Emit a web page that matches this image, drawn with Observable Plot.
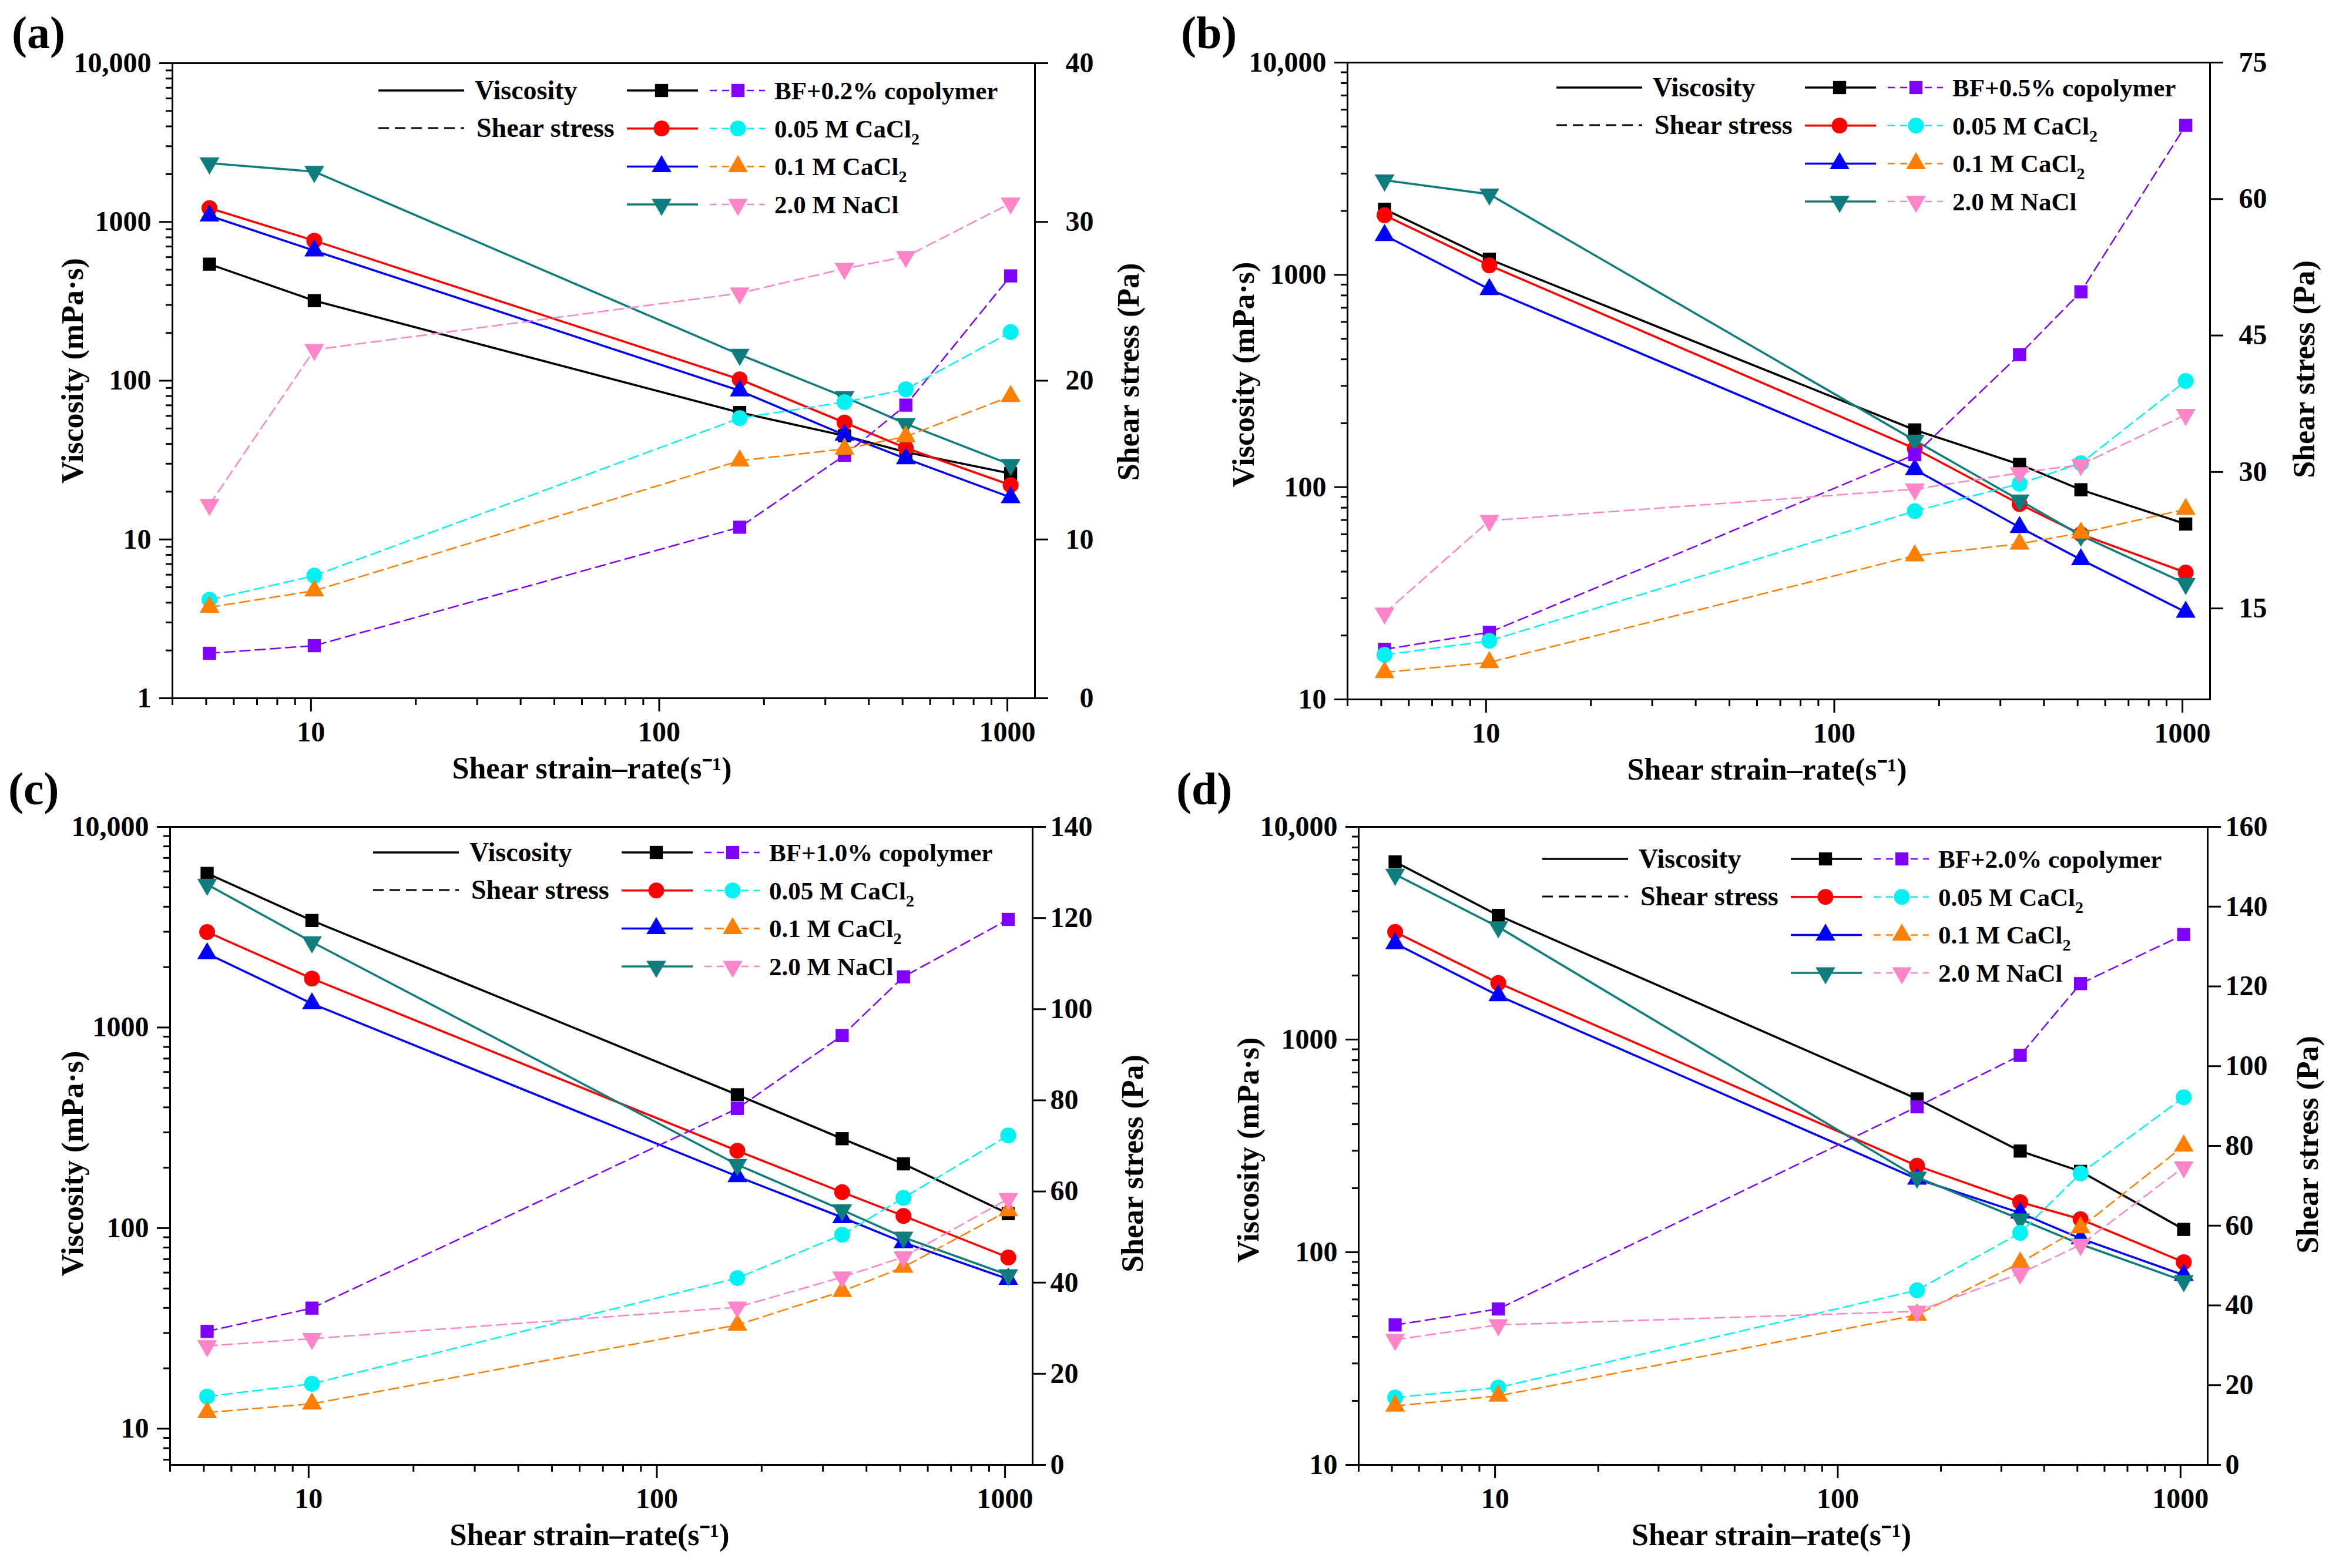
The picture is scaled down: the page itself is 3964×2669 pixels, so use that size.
<!DOCTYPE html>
<html><head><meta charset="utf-8">
<script src="https://cdn.jsdelivr.net/npm/d3@7"></script>
<script src="https://cdn.jsdelivr.net/npm/@observablehq/plot@0.6"></script>
<style>
html,body{margin:0;padding:0;background:#fff;}
#root{position:relative;width:3964px;height:2669px;background:#fff;overflow:hidden;}
</style></head><body><div id="root"></div>
<script>
// ---------------- DATA ----------------
const shearRate = [5.11, 10.22, 170.3, 340.6, 510.9, 1021.8];

const seriesLabelsA = ["BF+0.2% copolymer", "0.05 M CaCl₂", "0.1 M CaCl₂", "2.0 M NaCl"];
const seriesLabelsB = ["BF+0.5% copolymer", "0.05 M CaCl₂", "0.1 M CaCl₂", "2.0 M NaCl"];
const seriesLabelsC = ["BF+1.0% copolymer", "0.05 M CaCl₂", "0.1 M CaCl₂", "2.0 M NaCl"];
const seriesLabelsD = ["BF+2.0% copolymer", "0.05 M CaCl₂", "0.1 M CaCl₂", "2.0 M NaCl"];

// viscosity (mPa·s): rows = BF, 0.05 M CaCl2, 0.1 M CaCl2, 2.0 M NaCl
const viscosityA = [
  [542, 319, 63, 45, 35.5, 26],
  [1221, 762, 102, 54.5, 37.7, 22],
  [1094, 659, 86.5, 45.5, 32.3, 18.4],
  [2344, 2073, 146, 79, 53.5, 29.6]
];
const stressA = [
  [2.83, 3.31, 10.77, 15.3, 18.46, 26.6],
  [6.2, 7.72, 17.64, 18.65, 19.46, 23.06],
  [5.73, 6.77, 14.96, 15.7, 16.48, 19.02],
  [12.19, 21.95, 25.51, 27.06, 27.81, 31.18]
];
const viscosityB = [
  [2037, 1184, 186, 128, 97.2, 67],
  [1909, 1109, 152, 83.2, 60, 39.6],
  [1536, 855, 121, 64.7, 45.6, 25.8],
  [2790, 2397, 166, 86.7, 59.2, 35.1]
];
const stressB = [
  [10.5, 12.37, 31.9, 42.9, 49.8, 68.1],
  [9.9, 11.44, 25.7, 28.7, 30.96, 40.0],
  [7.97, 9.07, 20.8, 22.1, 23.3, 25.9],
  [14.47, 24.65, 28.1, 29.9, 30.8, 36.3]
];
const viscosityC = [
  [5861, 3415, 462, 279, 209, 118],
  [2992, 1754, 243, 151, 115, 71.4],
  [2336, 1315, 181, 113, 84.8, 55.7],
  [5164, 2667, 207, 123, 89.9, 58.4]
];
const stressC = [
  [29.3, 34.4, 78.2, 94.2, 107.1, 119.7],
  [15.0, 17.8, 41.0, 50.5, 58.6, 72.3],
  [11.5, 13.4, 30.7, 38.1, 43.4, 55.8],
  [26.1, 27.7, 34.6, 41.2, 45.6, 58.4]
];
const viscosityD = [
  [6843, 3834, 526, 299, 240, 128],
  [3206, 1845, 255, 172, 143, 89.8],
  [2830, 1611, 221, 153, 116, 78],
  [5975, 3384, 225, 143, 109, 73.3]
];
const stressD = [
  [35.1, 39.1, 89.8, 102.7, 120.7, 133.0],
  [16.9, 19.4, 43.8, 58.2, 73.1, 92.2],
  [14.8, 17.3, 37.6, 50.7, 59.5, 80.0],
  [31.4, 35.1, 38.5, 48.0, 55.2, 74.7]
];

// ticks
const xMajorTicks = [10, 100, 1000];
const xMinorTicks = [4, 5, 6, 7, 8, 9, 20, 30, 40, 50, 60, 70, 80, 90, 200, 300, 400, 500, 600, 700, 800, 900];
const viscMajorTicks = [1, 10, 100, 1000, 10000];
const viscTickLabels = ["1", "10", "100", "1000", "10,000"];
const viscMinorTicks = [2, 3, 4, 5, 6, 7, 8, 9, 20, 30, 40, 50, 60, 70, 80, 90, 200, 300, 400, 500, 600, 700, 800, 900, 2000, 3000, 4000, 5000, 6000, 7000, 8000, 9000];
const stressTicksA = [0, 10, 20, 30, 40];
const stressTicksB = [15, 30, 45, 60, 75];
const stressTicksC = [0, 20, 40, 60, 80, 100, 120, 140];
const stressTicksD = [0, 20, 40, 60, 80, 100, 120, 140, 160];

const xTitle = "Shear strain–rate(s⁻¹)";
const yLeftTitle = "Viscosity (mPa·s)";
const yRightTitle = "Shear stress (Pa)";
const legendHeaders = ["Viscosity", "Shear stress"];

// ---------------- STYLE ----------------
const FONT = '"Liberation Serif","Times New Roman",serif';
const viscColors = ["#000000", "#ff0000", "#0000ff", "#0f7d7d"];
const stressColors = ["#8000ff", "#00f2f2", "#ff8000", "#ff85c8"];
const triangleDown = {
  draw(ctx, size) {
    const y = Math.sqrt(size / (Math.sqrt(3) * 3));
    ctx.moveTo(0, 2 * y);
    ctx.lineTo(-Math.sqrt(3) * y, -y);
    ctx.lineTo(Math.sqrt(3) * y, -y);
    ctx.closePath();
  }
};
const plotSymbols = ["square", "circle", "triangle", triangleDown];
const d3Symbols = [d3.symbolSquare, d3.symbolCircle, d3.symbolTriangle, triangleDown];
const symbolR = [12.6, 13.5, 12.5, 12.5];

const panels = [
  {tag: "(a)", tagPos: [20, 82], frame: [293, 107, 1761, 1188], visc: viscosityA, stress: stressA,
   viscDomain: [1, 10000], stressDomain: [0, 40], stressTicks: stressTicksA, labels: seriesLabelsA,
   rightAnchor: "end", rightPad: 78, ylDx: -169, ylDy: -17, yrDx: 160, yrDy: -15, legOff: [0, 0]},
  {tag: "(b)", tagPos: [2010, 82], frame: [2293, 106, 3761, 1190], visc: viscosityB, stress: stressB,
   viscDomain: [10, 10000], stressDomain: [5, 75], stressTicks: stressTicksB, labels: seriesLabelsB,
   rightAnchor: "start", rightPad: 27, ylDx: -176, ylDy: -11, yrDx: 161, yrDy: -20, legOff: [5, -4]},
  {tag: "(c)", tagPos: [14, 1369], frame: [289, 1407, 1757, 2493], visc: viscosityC, stress: stressC,
   viscDomain: [6.6, 10000], stressDomain: [0, 140], stressTicks: stressTicksC, labels: seriesLabelsC,
   rightAnchor: "start", rightPad: 8, ylDx: -165, ylDy: 30, yrDx: 171, yrDy: 30, legOff: [-5, -3]},
  {tag: "(d)", tagPos: [2002, 1369], frame: [2312, 1407, 3757, 2493], visc: viscosityD, stress: stressD,
   viscDomain: [10, 10000], stressDomain: [0, 160], stressTicks: stressTicksD, labels: seriesLabelsD,
   rightAnchor: "start", rightPad: 8, ylDx: -187, ylDy: 7, yrDx: 171, yrDy: -2, legOff: [-38, 8]}
];

const root = document.getElementById("root");
function place(el, left, top) {
  el.style.position = "absolute";
  el.style.left = left + "px";
  el.style.top = top + "px";
  root.appendChild(el);
}

// panel tags
const tagSvg = d3.create("svg").attr("width", 3964).attr("height", 2669);
for (const p of panels) {
  tagSvg.append("text").attr("x", p.tagPos[0]).attr("y", p.tagPos[1])
    .attr("font-family", FONT).attr("font-weight", "bold").attr("font-size", 78).text(p.tag);
}
place(tagSvg.node(), 0, 0);

const mL = 260, mR = 240, mT = 30, mB = 170;
const plotStyle = {background: "transparent", fontFamily: FONT, fontSize: "48px", fontWeight: "bold", color: "black", overflow: "visible", maxWidth: "none"};

function rowsOf(matrix) {
  return matrix.map((vals, i) => vals.map((v, j) => ({series: i, rate: shearRate[j], value: v})));
}

for (const p of panels) {
  const [L, T, R, B] = p.frame;
  const W = mL + (R - L) + mR, H = mT + (B - T) + mB;
  const xScale = {type: "log", domain: [4, 1200]};
  const vRows = rowsOf(p.visc);
  const sRows = rowsOf(p.stress);
  const vMinor = viscMinorTicks.filter(t => t > p.viscDomain[0] && t < p.viscDomain[1]);

  const baseMarks = [
    Plot.axisX({ticks: xMinorTicks, anchor: "bottom", tickSize: 12, strokeWidth: 3, tickFormat: () => "", label: null}),
    Plot.axisX({ticks: xMajorTicks, anchor: "bottom", tickSize: 23, tickPadding: 16, strokeWidth: 3, tickFormat: d => String(d), label: null}),
    Plot.axisY({ticks: vMinor, anchor: "left", tickSize: 11, strokeWidth: 3, tickFormat: () => "", label: null}),
    Plot.axisY({ticks: viscMajorTicks.filter(t => t >= p.viscDomain[0]), anchor: "left", tickSize: 22, tickPadding: 14, strokeWidth: 3,
      tickFormat: d => viscTickLabels[viscMajorTicks.indexOf(d)], label: null}),
    Plot.text([yLeftTitle], {frameAnchor: "left", text: d => d, rotate: -90, textAnchor: "middle", lineAnchor: "middle",
      dx: p.ylDx, dy: p.ylDy, fontSize: 52, fontWeight: "bold"}),
    Plot.text([xTitle], {frameAnchor: "bottom", text: d => d, textAnchor: "middle", lineAnchor: "middle",
      dx: -20, dy: 120, fontSize: 52, fontWeight: "bold"})
  ];
  vRows.forEach((rows, i) => {
    baseMarks.push(Plot.line(rows, {x: "rate", y: "value", stroke: viscColors[i], strokeWidth: 3.6}));
    baseMarks.push(Plot.dot(rows, {x: "rate", y: "value", symbol: plotSymbols[i], fill: viscColors[i], r: symbolR[i]}));
  });
  baseMarks.push(Plot.frame({stroke: "black", strokeWidth: 3}));

  const base = Plot.plot({
    width: W, height: H, marginLeft: mL, marginRight: mR, marginTop: mT, marginBottom: mB,
    x: xScale, y: {type: "log", domain: p.viscDomain},
    style: plotStyle, marks: baseMarks
  });
  place(base, L - mL, T - mT);

  const overMarks = [
    Plot.axisY({ticks: p.stressTicks, anchor: "right", tickSize: 22, tickPadding: p.rightPad, textAnchor: p.rightAnchor, strokeWidth: 3, label: null, tickFormat: d => String(d)}),
    Plot.text([yRightTitle], {frameAnchor: "right", text: d => d, rotate: -90, textAnchor: "middle", lineAnchor: "middle",
      dx: p.yrDx, dy: p.yrDy, fontSize: 52, fontWeight: "bold"})
  ];
  sRows.forEach((rows, i) => {
    overMarks.push(Plot.line(rows, {x: "rate", y: "value", stroke: stressColors[i], strokeWidth: 2.5, strokeDasharray: "17,9"}));
    overMarks.push(Plot.dot(rows, {x: "rate", y: "value", symbol: plotSymbols[i], fill: stressColors[i], r: symbolR[i]}));
  });
  const over = Plot.plot({
    width: W, height: H, marginLeft: mL, marginRight: mR, marginTop: mT, marginBottom: mB,
    x: {...xScale, axis: null}, y: {type: "linear", domain: p.stressDomain},
    style: plotStyle, marks: overMarks
  });
  place(over, L - mL, T - mT);

  // legend
  const [ox, oy] = p.legOff;
  const leg = d3.create("svg").attr("width", 1600).attr("height", 320)
    .attr("font-family", FONT).attr("font-weight", "bold");
  const g = leg.append("g").attr("transform", `translate(${ox},${oy})`);
  g.append("line").attr("x1", 351).attr("x2", 497).attr("y1", 47).attr("y2", 47).attr("stroke", "black").attr("stroke-width", 3.5);
  g.append("text").attr("x", 515).attr("y", 62).attr("font-size", 46).text(legendHeaders[0]);
  g.append("line").attr("x1", 351).attr("x2", 497).attr("y1", 111).attr("y2", 111).attr("stroke", "black").attr("stroke-width", 3).attr("stroke-dasharray", "18,10");
  g.append("text").attr("x", 518).attr("y", 126).attr("font-size", 46).text(legendHeaders[1]);
  p.labels.forEach((lab, i) => {
    const y = 47 + i * 64.7;
    g.append("line").attr("x1", 774).attr("x2", 895).attr("y1", y).attr("y2", y).attr("stroke", viscColors[i]).attr("stroke-width", 3.5);
    g.append("path").attr("transform", `translate(833,${y})`)
      .attr("d", d3.symbol().type(d3Symbols[i]).size(Math.PI * symbolR[i] ** 2)()).attr("fill", viscColors[i]);
    g.append("line").attr("x1", 915).attr("x2", 1009).attr("y1", y).attr("y2", y).attr("stroke", stressColors[i]).attr("stroke-width", 2.5).attr("stroke-dasharray", "12,9");
    g.append("path").attr("transform", `translate(963,${y})`)
      .attr("d", d3.symbol().type(d3Symbols[i]).size(Math.PI * symbolR[i] ** 2)()).attr("fill", stressColors[i]);
    const t = g.append("text").attr("x", 1025).attr("y", y + 15).attr("font-size", 43);
    const parts = lab.split("₂");
    t.append("tspan").text(parts[0]);
    if (parts.length > 1) {
      t.append("tspan").attr("font-size", 28).attr("dy", 12).text("2");
    }
  });
  place(leg.node(), L, T);
}
</script>
</body></html>
